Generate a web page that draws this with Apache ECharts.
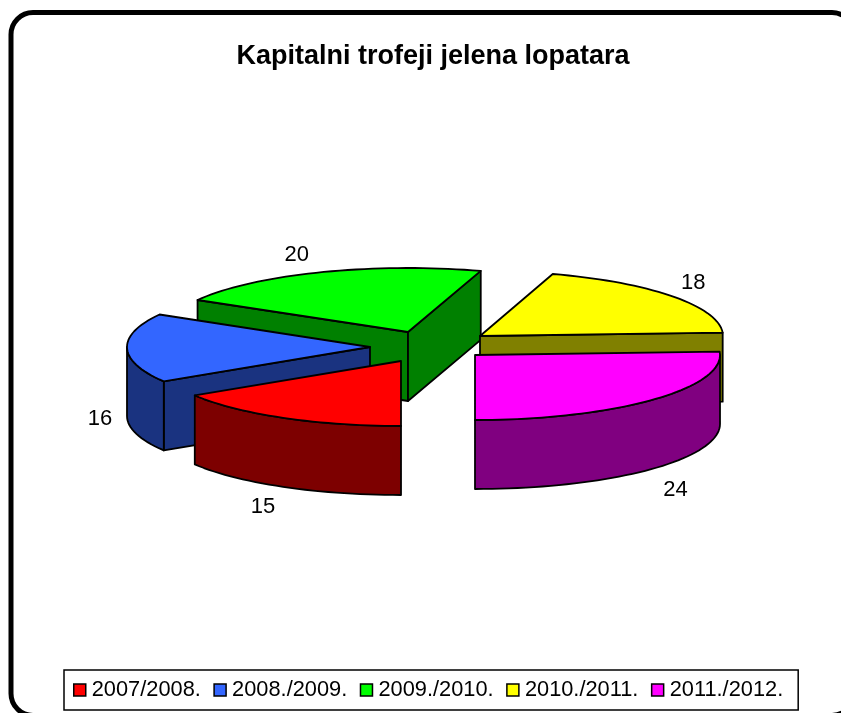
<!DOCTYPE html>
<html>
<head>
<meta charset="utf-8">
<style>
html, body { margin: 0; padding: 0; background: #fff; }
#grafico { width: 841px; height: 713px; }
</style>
<script src="https://cdn.jsdelivr.net/npm/echarts@6/dist/echarts.min.js"></script>
</head>
<body>
<div id="grafico"></div>
<script>
const categories = ['2007/2008.', '2008./2009.', '2009./2010.', '2010./2011.', '2011./2012.']
const values = [15, 16, 20, 18, 24]

const total = values.reduce((a, b) => a + b, 0)
const fontFamily = '"Liberation Sans", Arial, sans-serif'

// excel style 3d pie: squashed circle plus a fixed depth
const rx = 243
const ry = 65
const depth = 69
const startAngle = 180

// one entry per slice: exploded apex, colours, draw order, label nudge
const slices = [
  { cx: 401, cy: 361, top: '#ff0000', side: '#7d0000', z: 5, nudge: [-20, 20] },
  { cx: 370, cy: 347, top: '#3366ff', side: '#1a3380', z: 3, nudge: [-27, 2] },
  { cx: 408, cy: 332, ry: 64, top: '#00ff00', side: '#008000', z: 1, nudge: [-23, -17] },
  { cx: 480, cy: 336, top: '#ffff00', side: '#808000', z: 2, nudge: [21, -13] },
  { cx: 475, cy: 355, rx: 245, top: '#ff00ff', side: '#800080', z: 4, nudge: [23, 21] }
]

function rim(s, deg, drop) {
  const t = deg * Math.PI / 180
  return [s.cx + (s.rx || rx) * Math.sin(t), s.cy - (s.ry || ry) * Math.cos(t) + (drop || 0)]
}

function arcPoints(s, from, to, drop) {
  const pts = []
  const steps = Math.max(1, Math.ceil((to - from) / 2))
  for (let i = 0; i <= steps; i++) {
    pts.push(rim(s, from + (to - from) * i / steps, drop))
  }
  return pts
}

function face(points, fill) {
  return {
    type: 'polygon',
    shape: { points: points },
    style: { fill: fill, stroke: '#000', lineWidth: 1.8, lineJoin: 'round' }
  }
}

function radialWall(s, deg) {
  const p = rim(s, deg)
  return face([[s.cx, s.cy], p, [p[0], p[1] + depth], [s.cx, s.cy + depth]], s.side)
}

function renderSlice(index) {
  return function (params, api) {
    const value = api.value(0)
    const s = slices[index]
    const before = values.slice(0, index).reduce((a, b) => a + b, 0)
    const a = startAngle + before / total * 360
    const b = a + value / total * 360
    const children = []

    // only the walls that face the viewer
    if (Math.sin(a * Math.PI / 180) < -0.01) children.push(radialWall(s, a))
    if (Math.sin(b * Math.PI / 180) > 0.01) children.push(radialWall(s, b))

    // outer wall, front half of the ellipse only (90..270 and the same +360)
    ;[[90, 270], [450, 630]].forEach(r => {
      const from = Math.max(a, r[0])
      const to = Math.min(b, r[1])
      if (to > from) {
        children.push(face(arcPoints(s, from, to).concat(arcPoints(s, from, to, depth).reverse()), s.side))
      }
    })

    children.push(face([[s.cx, s.cy]].concat(arcPoints(s, a, b)), s.top))

    const mid = (a + b) / 2
    const front = Math.cos(mid * Math.PI / 180) < 0
    const anchor = rim(s, mid, front ? depth : 0)
    children.push({
      type: 'text',
      style: {
        text: String(value),
        x: anchor[0] + s.nudge[0],
        y: anchor[1] + s.nudge[1],
        fill: '#000',
        font: '22px ' + fontFamily,
        align: 'center',
        verticalAlign: 'middle'
      }
    })

    return { type: 'group', children: children }
  }
}

const myChart = echarts.init(document.getElementById('grafico'), null, { renderer: 'canvas' })

const option = {
  animation: false,
  backgroundColor: '#fff',
  title: {
    text: 'Kapitalni trofeji jelena lopatara',
    left: 428,
    top: 38,
    textAlign: 'center',
    textStyle: { fontFamily: fontFamily, fontSize: 27, fontWeight: 'bold', color: '#000' }
  },
  graphic: [
    {
      type: 'rect',
      z: -1,
      silent: true,
      shape: { x: 11, y: 12.5, width: 843, height: 703, r: 22 },
      style: { fill: 'none', stroke: '#000', lineWidth: 5 }
    }
  ],
  legend: {
    data: categories,
    left: 64,
    top: 670,
    orient: 'horizontal',
    icon: 'rect',
    itemWidth: 12,
    itemHeight: 12,
    itemGap: 12.5,
    padding: [9, 15, 9, 9],
    backgroundColor: '#fff',
    borderColor: '#000',
    borderWidth: 1.5,
    selectedMode: false,
    itemStyle: { borderColor: '#000', borderWidth: 1.5 },
    textStyle: { fontFamily: fontFamily, fontSize: 21.8, color: '#000', padding: [0, 0, 0, 1] }
  },
  series: categories.map((name, i) => ({
    name: name,
    type: 'custom',
    coordinateSystem: 'none',
    z: slices[i].z,
    silent: true,
    itemStyle: { color: slices[i].top },
    data: [[values[i]]],
    renderItem: renderSlice(i)
  }))
}

myChart.setOption(option)
</script>
</body>
</html>
